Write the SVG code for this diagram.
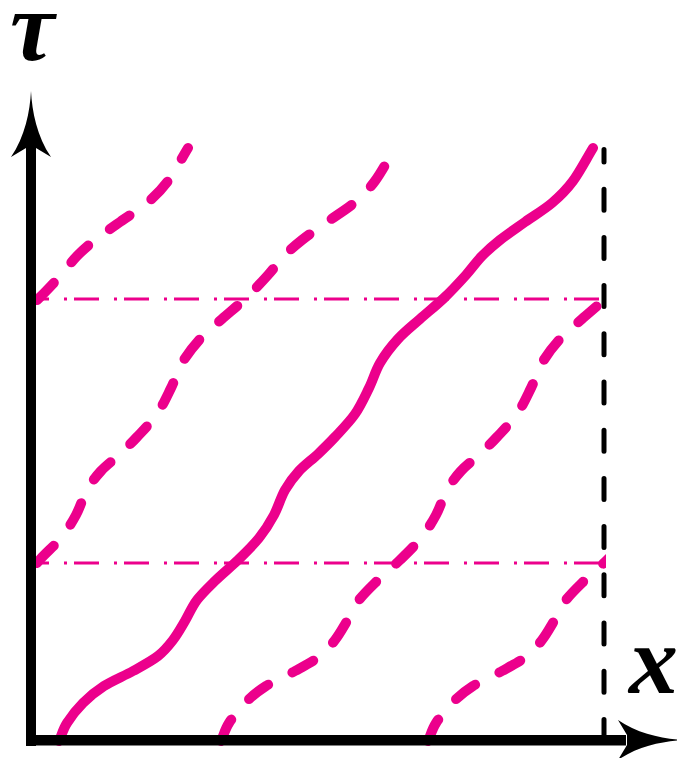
<svg xmlns="http://www.w3.org/2000/svg" xmlns:xlink="http://www.w3.org/1999/xlink" width="677" height="758" viewBox="0 0 677 758">
<style>
.curve{fill:none;stroke:#EC008C;stroke-width:10;stroke-linecap:round;stroke-linejoin:round}
.dashed{stroke-dasharray:24 27}
.dd{fill:none;stroke:#EC008C;stroke-width:3;stroke-dasharray:25 15 3 7;stroke-dashoffset:13}
.vdash{fill:none;stroke:#000;stroke-width:5;stroke-linecap:round;stroke-dasharray:21 27.2;stroke-dashoffset:8.5}
.lbl{font-family:"Liberation Serif","DejaVu Serif",serif;font-weight:bold;font-style:italic;fill:#000}
</style>
<defs>
<path id="w" d="M59,741 C61.7,735 63,729.3 67,723 S76.8,709.2 83,703 S95.7,691.3 104,686 S124,676 133,671 S151.3,661.2 158,656 S168.5,645.8 173,640 S181,627.7 185,621 S191.8,606.8 197,600 S209.2,586.7 216,580 S230.8,567 238,560 S253,545.5 259,538 S269.7,523 274,515 S280.8,497.3 285,490 S293.5,477 299,471 S312,459.7 318,454 S328.8,443.7 335,437 S349.3,422.2 355,414 S364.8,396.5 369,388 S375.2,371.2 380,363 S391.3,346.3 398,339 S412.3,325.8 420,319 S436.3,305.3 444,298 S459.7,282 466,275 S476.3,261.8 482,256 S492.8,245.7 500,240 S516.3,228.2 525,222 S544,209.8 552,203 S566.2,190.2 573,181 S586.3,159 593,148"/>
<path id="wTop" d="M442,300 C449.7,292.7 459.7,282 466,275 S476.3,261.8 482,256 S492.8,245.7 500,240 S516.3,228.2 525,222 S544,209.8 552,203 S566.2,190.2 573,181 S586.3,159 593,148"/>
<path id="wMid" d="M235,563 C240.2,556 253,545.5 259,538 S269.7,523 274,515 S280.8,497.3 285,490 S293.5,477 299,471 S312,459.7 318,454 S328.8,443.7 335,437 S349.3,422.2 355,414 S364.8,396.5 369,388 S375.2,371.2 380,363 S391.3,346.3 398,339 S412.3,325.8 420,319 S436.3,305.3 444,298 S459.7,282 466,275 S476.3,261.8 482,256 S492.8,245.7 500,240 S516.3,228.2 525,222 S544,209.8 552,203 S566.2,190.2 573,181 S586.3,159 593,148"/>
<path id="ah" d="M0,0 C-1,20 -6,46 -20,66 L-5,57 L5,57 L20,66 C6,46 1,20 0,0 Z"/>
<clipPath id="box"><rect x="36" y="0" width="570" height="758"/></clipPath>
</defs>
<g id="guides">
<line class="dd" x1="37" y1="299" x2="604" y2="299"/>
<line class="dd" x1="37" y1="563" x2="604" y2="563"/>
<line class="vdash" x1="604" y1="149.5" x2="604" y2="740"/>
</g>
<g id="worldlines" clip-path="url(#box)">
<use xlink:href="#w" class="curve"/>
<use xlink:href="#w" class="curve dashed" transform="translate(162,0)"/>
<use xlink:href="#wTop" class="curve dashed" transform="translate(-405,0)"/>
<use xlink:href="#w" class="curve dashed" transform="translate(369,0)"/>
<use xlink:href="#wMid" class="curve dashed" transform="translate(-198,0)"/>
</g>
<g id="axes">
<rect x="26" y="140" width="10" height="606" fill="#000"/>
<rect x="26" y="735" width="600" height="10.5" fill="#000"/>
<use xlink:href="#ah" transform="translate(31,91)" fill="#000"/>
<use xlink:href="#ah" transform="translate(684,740) rotate(90)" fill="#000"/>
</g>
<g id="labels">
<text class="lbl" x="10" y="60" font-size="100">τ</text>
<text class="lbl" x="629" y="693" font-size="98">x</text>
</g>
</svg>
